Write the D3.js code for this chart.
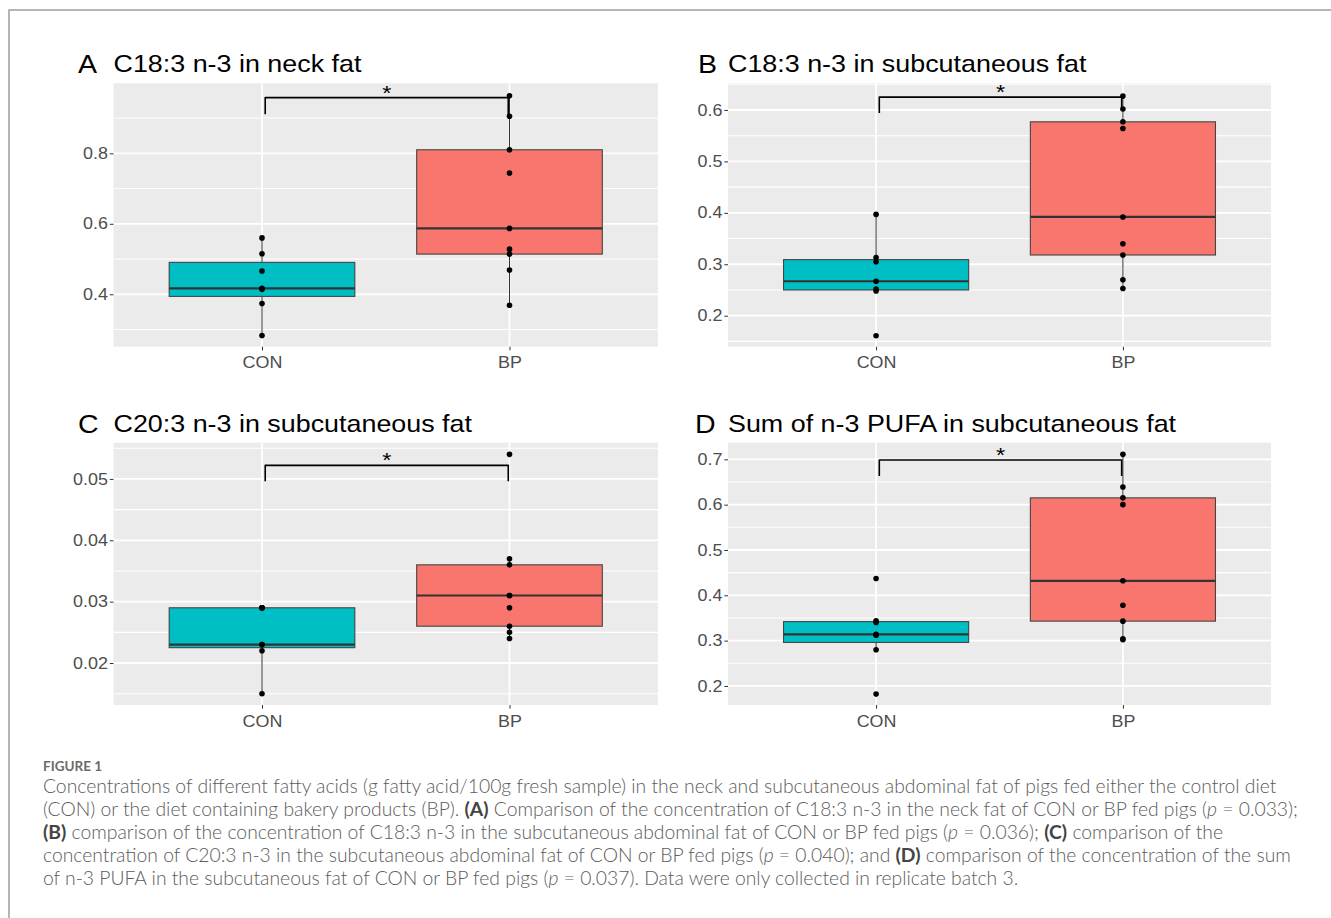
<!DOCTYPE html>
<html>
<head>
<meta charset="utf-8">
<script src="https://cdnjs.cloudflare.com/ajax/libs/d3/7.8.5/d3.min.js"></script>
<style>
    body { margin: 0; background: #fff; }
    svg text { font-family: "Liberation Sans", Arial, sans-serif; }
    .caption text { font-family: Lato, "Open Sans", sans-serif; }
</style>
</head>
<body>
<svg id="fig" width="1331" height="918"></svg>
<script>
    'use strict';

    // groups and panel text
    var groups = ['CON', 'BP'];
    var panelLetters = ['A', 'B', 'C', 'D'];
    var panelTitles = [
        'C18:3 n-3 in neck fat',
        'C18:3 n-3 in subcutaneous fat',
        'C20:3 n-3 in subcutaneous fat',
        'Sum of n-3 PUFA in subcutaneous fat'
    ];

    // values (g fatty acid / 100 g fresh sample)
    var neckC183Con = [0.560, 0.515, 0.466, 0.417, 0.414, 0.374, 0.283];
    var neckC183Bp = [0.963, 0.905, 0.810, 0.744, 0.587, 0.528, 0.514, 0.469, 0.369];
    var subC183Con = [0.397, 0.313, 0.305, 0.267, 0.252, 0.248, 0.161];
    var subC183Bp = [0.627, 0.602, 0.577, 0.564, 0.392, 0.340, 0.318, 0.270, 0.253];
    var subC203Con = [0.029, 0.029, 0.029, 0.023, 0.023, 0.022, 0.015];
    var subC203Bp = [0.054, 0.037, 0.036, 0.031, 0.031, 0.029, 0.026, 0.025, 0.024];
    var sumN3Con = [0.437, 0.344, 0.340, 0.314, 0.312, 0.280, 0.182];
    var sumN3Bp = [0.711, 0.639, 0.615, 0.600, 0.432, 0.378, 0.343, 0.304, 0.302];

    // y axis limits and tick labels
    var yLimits = [[0.2513, 0.9986], [0.1397, 0.6519], [0.01316, 0.0559], [0.158, 0.7367]];
    var yTicks = [
        [0.4, 0.6, 0.8],
        [0.2, 0.3, 0.4, 0.5, 0.6],
        [0.02, 0.03, 0.04, 0.05],
        [0.2, 0.3, 0.4, 0.5, 0.6, 0.7]
    ];
    var yFormats = ['.1f', '.1f', '.2f', '.1f'];

    // significance brackets
    var sigY = [0.958, 0.625, 0.0522, 0.6985];
    var sigLeftEnd = [0.911, 0.594, 0.0496, 0.663];
    var sigRightEnd = [0.906, 0.606, 0.0496, 0.663];
    var sigLabels = ['*', '*', '*', '*'];

    var series = [
        [neckC183Con, neckC183Bp],
        [subC183Con, subC183Bp],
        [subC203Con, subC203Bp],
        [sumN3Con, sumN3Bp]
    ];
    var fills = {CON: '#00BFC4', BP: '#F8766D'};

    // the figure text is a little wider than tall in the source image
    var stretch = 1.12;

    // panel frames (plot area)
    var frames = [
        {left: 113.5, right: 658, top: 83.3, bottom: 346.7, letterX: 78, titleY: 72},
        {left: 728, right: 1271, top: 83.3, bottom: 346.7, letterX: 698, titleY: 72},
        {left: 113.5, right: 658, top: 442.7, bottom: 705, letterX: 78, titleY: 431.5},
        {left: 728, right: 1271, top: 442.7, bottom: 705, letterX: 695, titleY: 431.5}
    ];

    var svg = d3.select('#fig');

    // figure frame
    svg.append('path')
        .attr('d', 'M9,918V10H1331')
        .attr('fill', 'none')
        .attr('stroke', '#9d9d9d')
        .attr('stroke-width', 1.5);

    function boxStats(values) {
        var s = values.slice().sort(d3.ascending);
        var q1 = d3.quantileSorted(s, 0.25),
            med = d3.quantileSorted(s, 0.5),
            q3 = d3.quantileSorted(s, 0.75),
            iqr = q3 - q1;
        var inside = s.filter(function (v) { return v >= q1 - 1.5 * iqr && v <= q3 + 1.5 * iqr; });
        return {q1: q1, med: med, q3: q3, lo: d3.min(inside), hi: d3.max(inside)};
    }

    function wideText(parent, x, y, size, str) {
        return parent.append('text')
            .attr('transform', 'translate(' + x + ',' + y + ') scale(' + stretch + ',1)')
            .style('font-size', size + 'px')
            .text(str);
    }

    frames.forEach(function (f, i) {
        var x = d3.scalePoint()
            .domain(groups)
            .range([f.left, f.right])
            .padding(0.6);
        var y = d3.scaleLinear()
            .domain(yLimits[i])
            .range([f.bottom, f.top]);
        var step = x.step(),
            boxW = step * 0.75;

        var g = svg.append('g');

        // panel background
        g.append('rect')
            .attr('x', f.left)
            .attr('y', f.top)
            .attr('width', f.right - f.left)
            .attr('height', f.bottom - f.top)
            .attr('fill', '#EBEBEB');

        // minor grid
        var majors = yTicks[i],
            d = majors[1] - majors[0];
        var minors = [majors[0] - d / 2].concat(majors.map(function (t) { return t + d / 2; }))
            .filter(function (t) { return t > yLimits[i][0] && t < yLimits[i][1]; });
        g.selectAll('.minor')
            .data(minors)
            .enter().append('line')
            .attr('x1', f.left).attr('x2', f.right)
            .attr('y1', y).attr('y2', y)
            .attr('stroke', '#fff')
            .attr('stroke-width', 1.1);

        // major grid
        g.selectAll('.major')
            .data(majors)
            .enter().append('line')
            .attr('x1', f.left).attr('x2', f.right)
            .attr('y1', y).attr('y2', y)
            .attr('stroke', '#fff')
            .attr('stroke-width', 1.8);
        g.selectAll('.vmajor')
            .data(groups)
            .enter().append('line')
            .attr('x1', x).attr('x2', x)
            .attr('y1', f.top).attr('y2', f.bottom)
            .attr('stroke', '#fff')
            .attr('stroke-width', 1.8);

        // boxes
        groups.forEach(function (grp, j) {
            var vals = series[i][j],
                st = boxStats(vals),
                cx = x(grp);

            g.append('line')
                .attr('x1', cx).attr('x2', cx)
                .attr('y1', y(st.hi)).attr('y2', y(st.q3))
                .attr('stroke', '#333').attr('stroke-width', 1);
            g.append('line')
                .attr('x1', cx).attr('x2', cx)
                .attr('y1', y(st.q1)).attr('y2', y(st.lo))
                .attr('stroke', '#333').attr('stroke-width', 1);
            g.append('rect')
                .attr('x', cx - boxW / 2)
                .attr('y', y(st.q3))
                .attr('width', boxW)
                .attr('height', y(st.q1) - y(st.q3))
                .attr('fill', fills[grp])
                .attr('stroke', '#444')
                .attr('stroke-width', 1.1);
            g.append('line')
                .attr('x1', cx - boxW / 2).attr('x2', cx + boxW / 2)
                .attr('y1', y(st.med)).attr('y2', y(st.med))
                .attr('stroke', '#333').attr('stroke-width', 2.2);

            g.selectAll('.pt' + j)
                .data(vals)
                .enter().append('circle')
                .attr('cx', cx)
                .attr('cy', function (v) { return y(v); })
                .attr('r', 2.8)
                .attr('fill', '#000');
        });

        // significance bracket
        var xl = x(groups[0]) + step * 0.013,
            xr = x(groups[1]) - step * 0.005;
        g.append('path')
            .attr('d', 'M' + xl + ',' + y(sigLeftEnd[i]) + 'V' + y(sigY[i]) + 'H' + xr + 'V' + y(sigRightEnd[i]))
            .attr('fill', 'none')
            .attr('stroke', '#000')
            .attr('stroke-width', 1.6)
            .attr('stroke-linejoin', 'round');
        wideText(g, (xl + xr) / 2, y(sigY[i]) + 2, 21, sigLabels[i])
            .attr('text-anchor', 'middle');

        // axes
        var yAxis = g.append('g')
            .attr('transform', 'translate(' + f.left + ',0)')
            .call(d3.axisLeft(y).tickValues(majors).tickSize(3.7).tickPadding(1.3).tickFormat(d3.format(yFormats[i])));
        var xAxis = g.append('g')
            .attr('transform', 'translate(0,' + f.bottom + ')')
            .call(d3.axisBottom(x).tickSize(3.7).tickPadding(6.5));
        [yAxis, xAxis].forEach(function (ax) {
            ax.select('.domain').remove();
            ax.selectAll('line').attr('stroke', '#333').attr('stroke-width', 1);
            ax.selectAll('text')
                .attr('fill', '#4D4D4D')
                .attr('transform', 'scale(' + stretch + ',1)')
                .style('font-size', '16px')
                .style('font-family', '"Liberation Sans", Arial, sans-serif');
        });

        // titles
        wideText(g, f.letterX, f.titleY + 1, 25.5, panelLetters[i]);
        wideText(g, f.left, f.titleY, 24, panelTitles[i]);
    });

    // caption
    var captionLines = [
        [['Concentrations of different fatty acids (g fatty acid/100g fresh sample) in the neck and subcutaneous abdominal fat of pigs fed either the control diet']],
        [['(CON) or the diet containing bakery products (BP). '], ['(A)', 'b'], [' Comparison of the concentration of C18:3 n-3 in the neck fat of CON or BP fed pigs ('], ['p', 'i'], [' = 0.033);']],
        [['(B)', 'b'], [' comparison of the concentration of C18:3 n-3 in the subcutaneous abdominal fat of CON or BP fed pigs ('], ['p', 'i'], [' = 0.036); '], ['(C)', 'b'], [' comparison of the']],
        [['concentration of C20:3 n-3 in the subcutaneous abdominal fat of CON or BP fed pigs ('], ['p', 'i'], [' = 0.040); and '], ['(D)', 'b'], [' comparison of the concentration of the sum']],
        [['of n-3 PUFA in the subcutaneous fat of CON or BP fed pigs ('], ['p', 'i'], [' = 0.037). Data were only collected in replicate batch 3.']]
    ];

    var cap = svg.append('g').attr('class', 'caption');
    cap.append('text')
        .attr('x', 43)
        .attr('y', 771)
        .attr('fill', '#6a6a6a')
        .style('font-size', '13.5px')
        .style('font-weight', 700)
        .text('FIGURE 1');

    var capSize = 16;
    var lines = cap.selectAll('.cl')
        .data(captionLines)
        .enter().append('text')
        .attr('x', 43)
        .attr('y', function (d, k) { return 793 + k * 23; })
        .attr('fill', '#5c5c5c')
        .style('font-size', capSize + 'px')
        .style('font-weight', 300);
    lines.each(function (segs) {
        var t = d3.select(this);
        segs.forEach(function (s) {
            var ts = t.append('tspan').text(s[0]);
            if (s[1] === 'b') ts.style('font-weight', 700).attr('fill', '#444');
            if (s[1] === 'i') ts.style('font-style', 'italic');
        });
    });
    // fit first line to its width in the figure
    var w0 = lines.nodes()[0].getComputedTextLength();
    capSize = capSize * 1234 / w0;
    lines.style('font-size', capSize + 'px');
</script>
</body>
</html>
